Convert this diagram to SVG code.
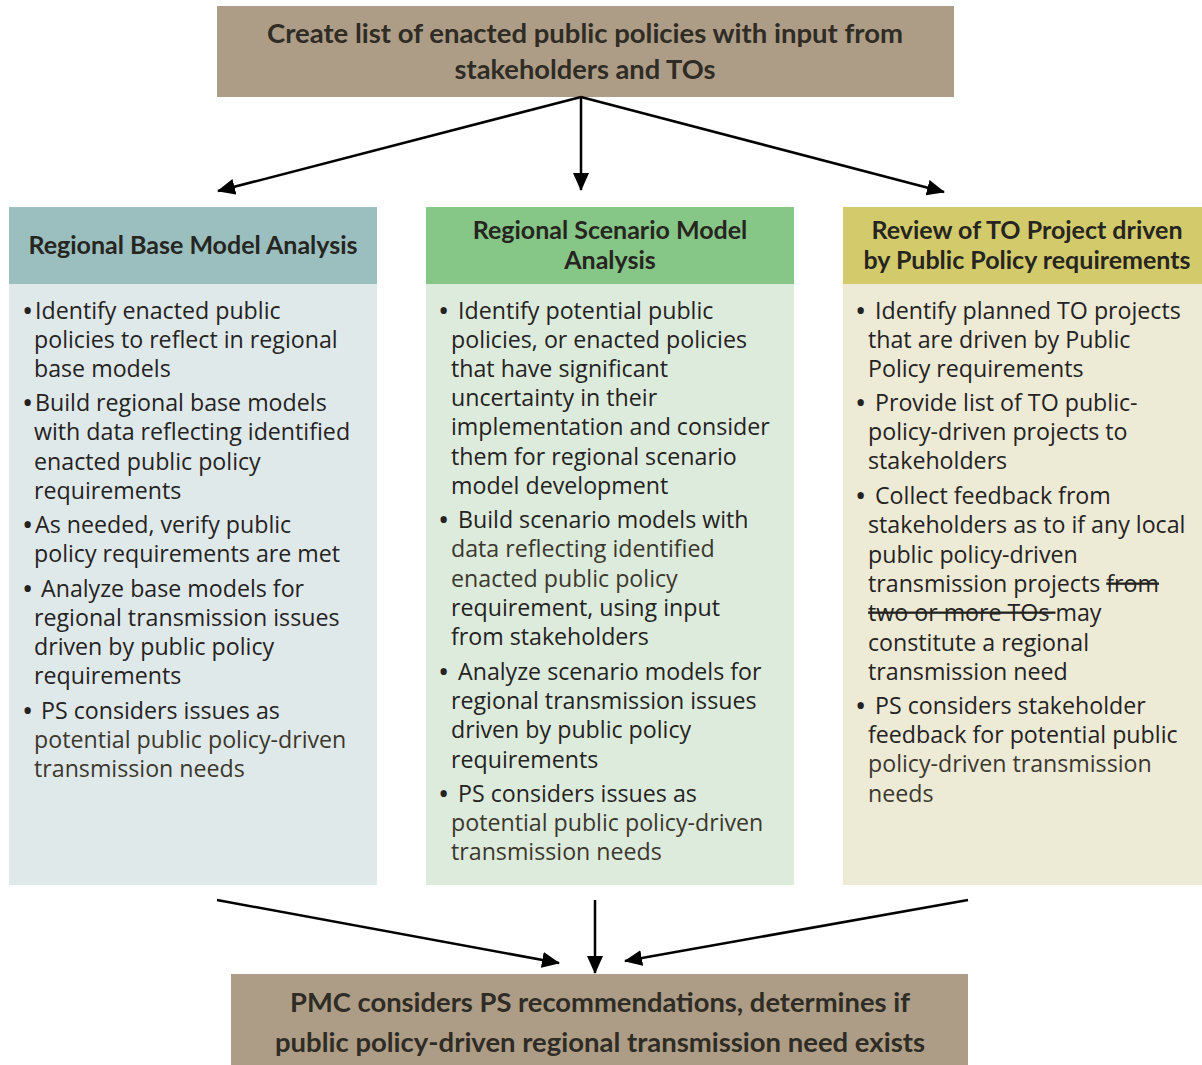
<svg xmlns="http://www.w3.org/2000/svg" width="1202" height="1065" viewBox="0 0 1202 1065">
<style>
.b{font-family:"Open Sans",Lato,"Liberation Sans",sans-serif;font-size:23.2px;fill:#24231f}
.g{fill:#3b382e}
.d{font-size:30px}
.h{font-family:Lato,"Open Sans","Liberation Sans",sans-serif;font-size:25px;font-weight:bold;fill:#26251f;text-anchor:middle}
.t{font-family:Lato,"Open Sans","Liberation Sans",sans-serif;font-size:27px;font-weight:bold;fill:#2e2c25;text-anchor:middle}
.s{text-decoration:line-through}
.c{stroke:#000;stroke-width:2.5;fill:none;marker-end:url(#ah)}
</style>
<defs>
<marker id="ah" markerUnits="userSpaceOnUse" markerWidth="18" markerHeight="16" refX="17" refY="8" orient="auto">
<path d="M0,0 L18,8 L0,16 Z" fill="#000"/>
</marker>
</defs>
<rect width="1202" height="1065" fill="#fff"/>
<g id="top">
<rect x="217" y="6" width="737" height="91" fill="#AE9D86"/>
<text class="t" x="585" y="43" textLength="636" lengthAdjust="spacingAndGlyphs">Create list of enacted public policies with input from</text>
<text class="t" x="585" y="79" textLength="261" lengthAdjust="spacingAndGlyphs">stakeholders and TOs</text>
</g>
<g id="base">
<rect x="9" y="207" width="368" height="77" fill="#9BBFBE"/>
<rect x="9" y="284" width="368" height="601" fill="#E0E9E9"/>
<text class="h" x="193" y="254">Regional Base Model Analysis</text>
<text class="b">
<tspan x="22" y="321" class="d">•</tspan><tspan x="35" y="319">Identify enacted public</tspan>
<tspan x="34" y="348">policies to reflect in regional</tspan>
<tspan x="34" y="377">base models</tspan>
<tspan x="22" y="413" class="d">•</tspan><tspan x="35" y="411">Build regional base models</tspan>
<tspan x="34" y="440">with data reflecting identified</tspan>
<tspan x="34" y="470">enacted public policy</tspan>
<tspan x="34" y="499">requirements</tspan>
<tspan x="22" y="535" class="d">•</tspan><tspan x="35" y="533">As needed, verify public</tspan>
<tspan x="34" y="562">policy requirements are met</tspan>
<tspan x="22" y="599" class="d">•</tspan><tspan x="41" y="597">Analyze base models for</tspan>
<tspan x="34" y="626">regional transmission issues</tspan>
<tspan x="34" y="655">driven by public policy</tspan>
<tspan x="34" y="684">requirements</tspan>
<tspan x="22" y="721" class="d">•</tspan><tspan x="41" y="719">PS considers issues as</tspan>
<tspan x="34" y="748" class="g">potential public policy-driven</tspan>
<tspan x="34" y="777" class="g">transmission needs</tspan>
</text>
</g>
<g id="scenario">
<rect x="426" y="207" width="368" height="77" fill="#86C687"/>
<rect x="426" y="284" width="368" height="601" fill="#DDEBDC"/>
<text class="h" x="610" y="239">Regional Scenario Model</text>
<text class="h" x="610" y="269">Analysis</text>
<text class="b">
<tspan x="438" y="321" class="d">•</tspan><tspan x="458" y="319">Identify potential public</tspan>
<tspan x="451" y="348">policies, or enacted policies</tspan>
<tspan x="451" y="377">that have significant</tspan>
<tspan x="451" y="406">uncertainty in their</tspan>
<tspan x="451" y="435">implementation and consider</tspan>
<tspan x="451" y="465">them for regional scenario</tspan>
<tspan x="451" y="494">model development</tspan>
<tspan x="438" y="530" class="d">•</tspan><tspan x="458" y="528">Build scenario models with</tspan>
<tspan x="451" y="557" class="g">data reflecting identified</tspan>
<tspan x="451" y="587" class="g">enacted public policy</tspan>
<tspan x="451" y="616">requirement, using input</tspan>
<tspan x="451" y="645">from stakeholders</tspan>
<tspan x="438" y="682" class="d">•</tspan><tspan x="458" y="680">Analyze scenario models for</tspan>
<tspan x="451" y="709">regional transmission issues</tspan>
<tspan x="451" y="738">driven by public policy</tspan>
<tspan x="451" y="768">requirements</tspan>
<tspan x="438" y="804" class="d">•</tspan><tspan x="458" y="802">PS considers issues as</tspan>
<tspan x="451" y="831" class="g">potential public policy-driven</tspan>
<tspan x="451" y="860" class="g">transmission needs</tspan>
</text>
</g>
<g id="review">
<rect x="843" y="207" width="359" height="77" fill="#D3CB6B"/>
<rect x="843" y="284" width="359" height="601" fill="#EDEAD6"/>
<text class="h" x="1027" y="239">Review of TO Project driven</text>
<text class="h" x="1027" y="269">by Public Policy requirements</text>
<text class="b">
<tspan x="855" y="321" class="d">•</tspan><tspan x="875" y="319">Identify planned TO projects</tspan>
<tspan x="868" y="348">that are driven by Public</tspan>
<tspan x="868" y="377">Policy requirements</tspan>
<tspan x="855" y="413" class="d">•</tspan><tspan x="875" y="411">Provide list of TO public-</tspan>
<tspan x="868" y="440">policy-driven projects to</tspan>
<tspan x="868" y="469">stakeholders</tspan>
<tspan x="855" y="506" class="d">•</tspan><tspan x="875" y="504">Collect feedback from</tspan>
<tspan x="868" y="533">stakeholders as to if any local</tspan>
<tspan x="868" y="563">public policy-driven</tspan>
<tspan x="868" y="592">transmission projects <tspan class="s">from</tspan></tspan>
<tspan x="868" y="621"><tspan class="s">two or more TOs </tspan>may</tspan>
<tspan x="868" y="651">constitute a regional</tspan>
<tspan x="868" y="680">transmission need</tspan>
<tspan x="855" y="716" class="d">•</tspan><tspan x="875" y="714">PS considers stakeholder</tspan>
<tspan x="868" y="743">feedback for potential public</tspan>
<tspan x="868" y="772" class="g">policy-driven transmission</tspan>
<tspan x="868" y="802" class="g">needs</tspan>
</text>
</g>
<g id="pmc">
<rect x="231" y="974" width="737" height="91" fill="#AE9D86"/>
<text class="t" x="600" y="1012" textLength="620" lengthAdjust="spacingAndGlyphs">PMC considers PS recommendations, determines if</text>
<text class="t" x="600" y="1052" textLength="650" lengthAdjust="spacingAndGlyphs">public policy-driven regional transmission need exists</text>
</g>
<g id="connectors">
<line class="c" x1="581" y1="97" x2="218" y2="191"/>
<line class="c" x1="581" y1="97" x2="581" y2="190"/>
<line class="c" x1="581" y1="97" x2="944" y2="192"/>
<line class="c" x1="217" y1="900" x2="559" y2="963"/>
<line class="c" x1="595" y1="900" x2="595" y2="973"/>
<line class="c" x1="968" y1="900" x2="625" y2="961"/>
</g>
</svg>
